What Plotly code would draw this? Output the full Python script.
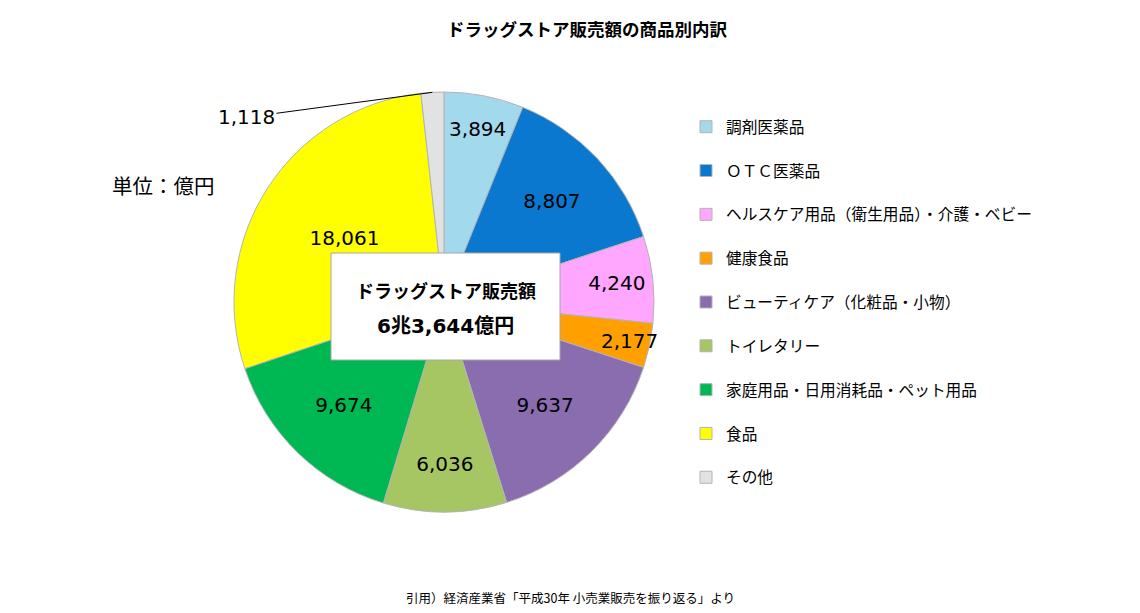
import math
import plotly.graph_objects as go

# ---- data ----
categories = ["調剤医薬品", "ＯＴＣ医薬品", "ヘルスケア用品（衛生用品）・介護・ベビー", "健康食品",
              "ビューティケア（化粧品・小物）", "トイレタリー", "家庭用品・日用消耗品・ペット用品", "食品", "その他"]
values = [3894, 8807, 4240, 2177, 9637, 6036, 9674, 18061, 1118]
colors = ["#A3D9EC", "#0A78CE", "#FFA6FF", "#FFA000", "#8A6DAF", "#A6C664", "#00B853", "#FFFF00", "#E2E2E2"]
title_text = "ドラッグストア販売額の商品別内訳"
total_label = ["ドラッグストア販売額", "6兆3,644億円"]
unit_text = "単位：億円"
source_text = "引用）経済産業省「平成30年 小売業販売を振り返る」より"

W, H = 1140, 613
JP = "Noto Sans CJK JP"
NUM = "DejaVu Sans"
MIX = "DejaVu Sans, Noto Sans CJK JP"

# pie geometry (pixels)
cx, cy, R = 444, 302, 210
dom_x = [(cx - R) / W, (cx + R) / W]
dom_y = [1 - (cy + R) / H, 1 - (cy - R) / H]

fmt = [f"{v:,}" for v in values]
textpos = ["inside"] * (len(values) - 1) + ["none"]

fig = go.Figure(go.Pie(
    labels=[c + "<br> " for c in categories],
    values=values,
    sort=False,
    direction="clockwise",
    rotation=0,
    marker=dict(colors=colors, line=dict(color="#B4B4B4", width=1)),
    text=fmt,
    textinfo="text",
    textposition=textpos,
    insidetextorientation="horizontal",
    textfont=dict(family=NUM, size=20, color="#000000"),
    domain=dict(x=dom_x, y=dom_y),
    hovertemplate="%{label}: %{value:,}<extra></extra>",
))

# small slice label with leader line
total = sum(values)
cum_before = sum(values[:-1])
mid_frac = (cum_before + values[-1] / 2) / total
ang = 2 * math.pi * mid_frac
tipx = cx + R * math.sin(ang)
tipy = cy - R * math.cos(ang)

annotations = [
    dict(x=tipx / W, y=1 - tipy / H, xref="paper", yref="paper",
         text=fmt[-1], showarrow=True, arrowhead=0, arrowwidth=1, arrowcolor="#000000",
         ax=-186, ay=25, standoff=0, font=dict(family=NUM, size=20, color="#000000")),
    dict(x=446 / W, y=1 - 290 / H, xref="paper", yref="paper", showarrow=False, yanchor="middle",
         text="<b>" + total_label[0] + "</b>", font=dict(family=JP, size=18, color="#000000")),
    dict(x=445 / W, y=1 - 326 / H, xref="paper", yref="paper", showarrow=False, yanchor="middle",
         text="<b>" + total_label[1] + "</b>", font=dict(family=MIX, size=20, color="#000000")),
    dict(x=110 / W, y=1 - 185 / H, xref="paper", yref="paper", showarrow=False, xanchor="left",
         yanchor="middle", text=unit_text, font=dict(family=JP, size=20.5, color="#000000")),
    dict(x=570 / W, y=1 - 597 / H, xref="paper", yref="paper", showarrow=False, yanchor="middle",
         text=source_text, font=dict(family=JP, size=12.5, color="#000000")),
]

shapes = [dict(type="rect", xref="paper", yref="paper", layer="above",
               x0=331 / W, x1=560 / W, y0=1 - 360 / H, y1=1 - 253 / H,
               fillcolor="#FFFFFF", line=dict(color="#A6A6A6", width=1))]

fig.update_layout(
    width=W, height=H,
    margin=dict(l=0, r=0, t=0, b=0),
    paper_bgcolor="#FFFFFF",
    title=dict(text="<b>" + title_text + "</b>", x=587 / W, xanchor="center", y=1 - 30 / H, yanchor="middle",
               font=dict(family=JP, size=17.5, color="#000000")),
    uniformtext=dict(mode="show", minsize=20),
    showlegend=True,
    legend=dict(x=686 / W, xanchor="left", y=1 - 110 / H, yanchor="top", valign="top",
                font=dict(family=JP, size=15.7, color="#000000"), itemclick=False, itemdoubleclick=False),
    annotations=annotations,
    shapes=shapes,
)

fig.write_html("out.html", config={"displayModeBar": False},
               post_script="document.body.style.margin='0';document.body.style.padding='0';")
